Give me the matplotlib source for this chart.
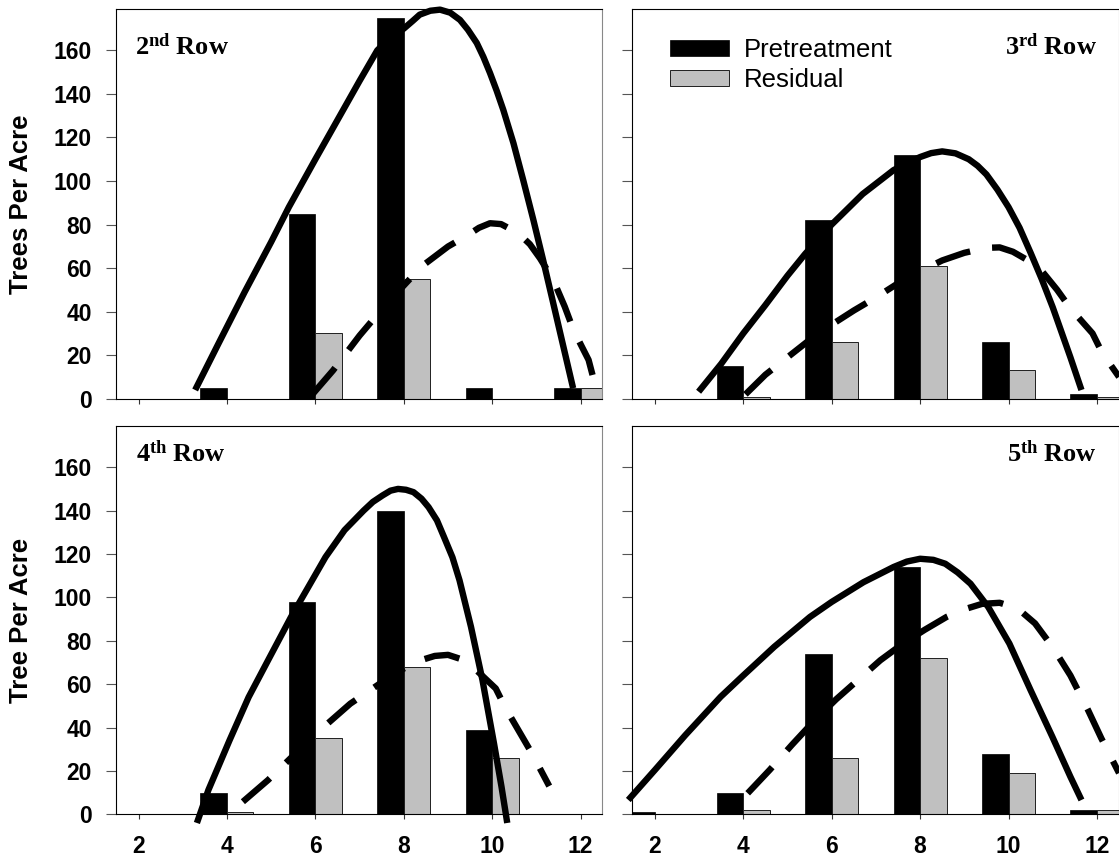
import matplotlib
matplotlib.use("Agg")
import matplotlib.pyplot as plt

plt.rcParams['font.family'] = ['Liberation Sans', 'DejaVu Sans']
plt.rcParams['mathtext.fontset'] = 'custom'
plt.rcParams['mathtext.rm'] = 'Liberation Serif'
plt.rcParams['mathtext.bf'] = 'Liberation Serif:bold'
plt.rcParams['mathtext.it'] = 'Liberation Serif:italic'

# ---------------- data ----------------
dbh_classes = [2, 4, 6, 8, 10, 12]
tick_y = [0, 20, 40, 60, 80, 100, 120, 140, 160]

row2_pre = [0, 5, 85, 175, 5, 5]
row2_res = [0, 0, 30, 55, 0, 5]
row3_pre = [0, 15, 82, 112, 26, 2]
row3_res = [0, 1, 26, 61, 13, 1]
row4_pre = [0, 10, 98, 140, 39, 0]
row4_res = [0, 1, 35, 68, 26, 0]
row5_pre = [1, 10, 74, 114, 28, 2]
row5_res = [0, 2, 26, 72, 19, 2]

# fitted curves (x, y)
row2_pre_fit_x = [3.28, 3.8, 4.4, 5.0, 5.4, 6.0, 6.5, 7.0, 7.4, 7.7, 8.0, 8.2, 8.36, 8.6, 8.82, 9.05, 9.27, 9.45, 9.65, 9.8, 9.95, 10.1, 10.25, 10.48, 10.7, 10.93, 11.15, 11.38, 11.61, 11.83]
row2_pre_fit_y = [4, 25, 49, 72, 88, 110, 128, 146, 160, 166, 170, 173.5, 176.4, 178.2, 178.7, 177.3, 174, 169.5, 163.4, 157, 149.6, 141.5, 132.7, 117.4, 100.5, 82.2, 63.8, 43.9, 23.9, 4.8]
row2_res_fit_x = [5.92, 6.4, 7.0, 7.5, 8.0, 8.4, 9.0, 9.46, 9.7, 9.95, 10.2, 10.59, 10.85, 11.08, 11.38, 11.64, 11.83, 12.0, 12.18, 12.3, 12.46]
row2_res_fit_y = [1.7, 13, 29, 41, 52, 60.7, 69.9, 75.3, 78.5, 80.6, 80.2, 76, 71, 64.5, 54.6, 42.3, 32, 25, 17.8, 8.5, 3]

row3_pre_fit_x = [2.99, 3.5, 4.0, 4.5, 5.0, 5.4, 6.0, 6.7, 7.4, 7.75, 8.0, 8.25, 8.5, 8.8, 9.1, 9.3, 9.5, 9.75, 10.0, 10.25, 10.5, 10.75, 11.0, 11.2, 11.4, 11.65]
row3_pre_fit_y = [3.2, 16, 30, 43, 56.5, 66.5, 80, 94, 105, 108.7, 111, 112.8, 113.6, 112.7, 110, 107, 103, 96, 88, 78.5, 67, 55, 42, 30.5, 19, 4]
row3_res_fit_x = [4.05, 4.5, 5.0, 5.5, 6.0, 6.5, 7.0, 7.5, 8.0, 8.5, 9.0, 9.5, 9.8, 10.1, 10.4, 10.7, 11.1, 11.4, 11.9, 12.12, 12.5]
row3_res_fit_y = [2, 11, 19, 27, 34, 40.5, 46.5, 53, 58.5, 63.5, 67, 69.3, 69.5, 67.5, 64, 60, 50, 41.5, 30, 21, 10]

row4_pre_fit_x = [3.32, 3.58, 4.06, 4.49, 4.93, 5.45, 5.79, 6.23, 6.66, 7.09, 7.3, 7.52, 7.7, 7.87, 8.05, 8.22, 8.4, 8.56, 8.75, 8.91, 9.1, 9.26, 9.52, 9.78, 10.04, 10.21, 10.34]
row4_pre_fit_y = [-4, 11.2, 34.2, 54, 71, 91, 103, 118.6, 131, 140, 144, 147, 149.2, 150, 149.6, 148.5, 145.5, 141.6, 135.5, 127.8, 118.5, 107.9, 86.4, 61.8, 32.7, 12.7, -4]
row4_res_fit_x = [4.36, 4.93, 5.32, 5.8, 6.23, 6.79, 7.26, 7.8, 8.3, 8.7, 9.0, 9.3, 9.56, 10.08, 10.3, 10.6, 10.9, 11.29]
row4_res_fit_y = [5.8, 15.8, 23.5, 33, 41, 51, 57.5, 65, 70.5, 73, 73.5, 71.5, 68, 58, 49, 38.5, 28, 13]

row5_pre_fit_x = [1.4, 2.0, 2.69, 3.49, 4.0, 4.7, 5.51, 6.0, 6.72, 7.4, 7.7, 8.0, 8.3, 8.57, 8.85, 9.14, 9.54, 10.02, 10.5, 10.99, 11.4, 11.65]
row5_pre_fit_y = [6.6, 20.4, 36.5, 54.2, 64, 77.2, 91, 97.9, 107, 114, 116.5, 117.8, 117.3, 115.5, 111.5, 106.3, 95.6, 78.7, 57.2, 35.8, 17.3, 6.6]
row5_res_fit_x = [4.1, 4.6, 5.1, 5.6, 6.1, 6.6, 7.1, 7.6, 8.1, 8.6, 9.0, 9.4, 9.8, 10.2, 10.6, 11.0, 11.4, 11.8, 12.1, 12.5]
row5_res_fit_y = [9.7, 20.5, 32, 43, 53, 62, 71, 78.5, 85, 91, 94.5, 97, 97.5, 95, 88, 77, 64, 48, 35, 19]

panel_titles = [r'$\mathbf{2^{nd}\ Row}$', r'$\mathbf{3^{rd}\ Row}$',
                r'$\mathbf{4^{th}\ Row}$', r'$\mathbf{5^{th}\ Row}$']
ylabels = ['Trees Per Acre', 'Tree Per Acre']
legend_labels = ['Pretreatment', 'Residual']

panels = [
    (row2_pre, row2_res, row2_pre_fit_x, row2_pre_fit_y, row2_res_fit_x, row2_res_fit_y),
    (row3_pre, row3_res, row3_pre_fit_x, row3_pre_fit_y, row3_res_fit_x, row3_res_fit_y),
    (row4_pre, row4_res, row4_pre_fit_x, row4_pre_fit_y, row4_res_fit_x, row4_res_fit_y),
    (row5_pre, row5_res, row5_pre_fit_x, row5_pre_fit_y, row5_res_fit_x, row5_res_fit_y),
]

# ---------------- layout ----------------
W, H = 1119, 863
fig = plt.figure(figsize=(W / 100, H / 100), dpi=100)

col_left = [116 / W, 632.3 / W]
col_w = 486.3 / W
row_bottom = [1 - 398.7 / H, 1 - 814.3 / H]
row_h = [389.7 / H, 388.3 / H]

title_pos = [(0.039, 0.884, 'left'), (0.955, 0.882, 'right'),
             (0.041, 0.908, 'left'), (0.955, 0.908, 'right')]

bar_w = 0.6
for i, (pre, res, pfx, pfy, rfx, rfy) in enumerate(panels):
    r, c = divmod(i, 2)
    ax = fig.add_axes([col_left[c], row_bottom[r], col_w, row_h[r]])
    b1 = ax.bar(dbh_classes, pre, width=-bar_w, align='edge', color='black',
                edgecolor='black', linewidth=0.5, zorder=2)
    b2 = ax.bar(dbh_classes, res, width=bar_w, align='edge', color='#c0c0c0',
                edgecolor='#202020', linewidth=0.7, zorder=2)
    ax.plot(pfx, pfy, color='black', lw=4.6, solid_capstyle='butt',
            solid_joinstyle='round', clip_on=False, zorder=3)
    ax.plot(rfx, rfy, color='black', lw=4.6, dashes=(5.6, 3.5),
            dash_capstyle='butt', dash_joinstyle='round', clip_on=False, zorder=3)

    ax.set_xlim(1.49, 12.49)
    ax.set_ylim(0, 179)
    ax.set_xticks(dbh_classes)
    ax.set_yticks(tick_y)
    ax.tick_params(axis='y', direction='out', length=7.2, width=0.8,
                   color='#555555', labelsize=16.5, pad=10)
    ax.tick_params(axis='x', direction='out', length=3.8, width=0.8,
                   color='#333333', labelsize=16.5, pad=11)
    for lab in ax.get_xticklabels() + ax.get_yticklabels():
        lab.set_fontweight('bold')
    if c == 1:
        ax.tick_params(axis='y', labelleft=False)
    if r == 0:
        ax.tick_params(axis='x', labelbottom=False)
    for side in ['left', 'top', 'bottom']:
        ax.spines[side].set_color('black')
        ax.spines[side].set_linewidth(0.8)
    ax.spines['right'].set_color('#888888')
    ax.spines['right'].set_linewidth(0.8)

    tx, ty, ha = title_pos[i]
    ax.text(tx, ty, panel_titles[i], transform=ax.transAxes, ha=ha,
            va='baseline', fontsize=19)

    if i == 1:
        ax.legend([b1, b2], legend_labels, loc='upper left',
                  bbox_to_anchor=(0.0775, 0.925), borderaxespad=0, borderpad=0,
                  frameon=False, fontsize=18.5, handlelength=2.3,
                  handleheight=0.545, handletextpad=0.57, labelspacing=0.23)

fig.text(21 / W, 1 - 204 / H, ylabels[0], rotation=90, ha='center',
         va='center', fontsize=18.5, fontweight='bold')
fig.text(21 / W, 1 - 620.5 / H, ylabels[1], rotation=90, ha='center',
         va='center', fontsize=18.5, fontweight='bold')

fig.savefig('out.png', dpi=100)
